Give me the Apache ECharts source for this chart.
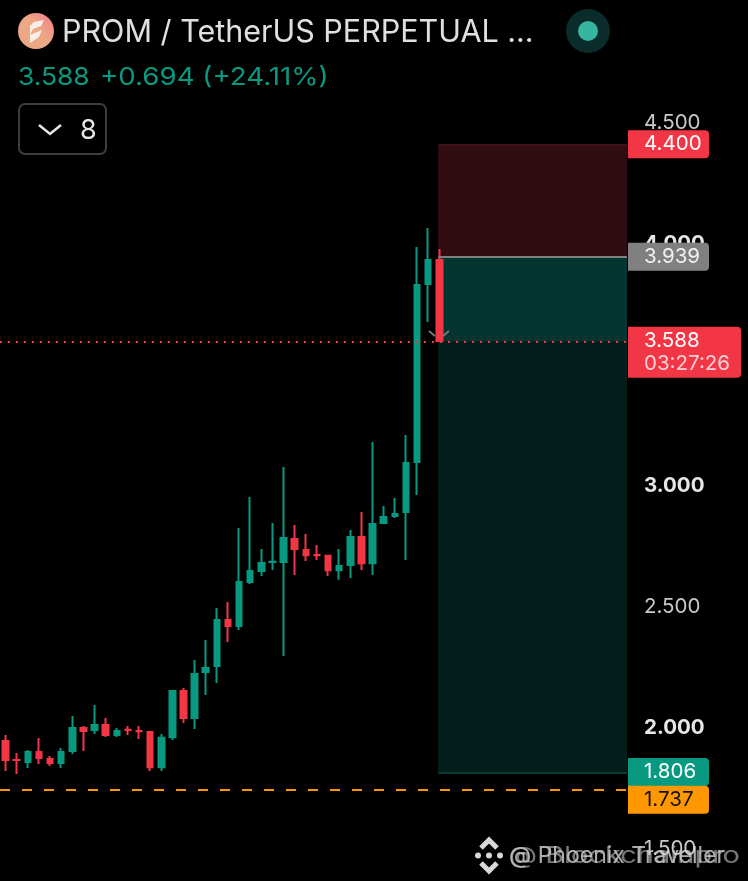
<!DOCTYPE html>
<html>
<head>
<meta charset="utf-8">
<style>html,body{margin:0;padding:0;background:#000;}#c{width:748px;height:881px;}</style>
<script src="https://cdn.jsdelivr.net/npm/echarts@6/dist/echarts.min.js"></script>
</head>
<body>
<div id="c"></div>
<script>
const opens  = [1.938,1.860,1.851,1.893,1.864,1.847,1.897,1.992,1.983,2.004,1.963,1.984,1.979,1.975,1.830,1.954,2.145,2.033,2.223,2.248,2.438,2.413,2.595,2.640,2.678,2.678,2.773,2.727,2.707,2.703,2.644,2.665,2.781,2.673,2.839,2.868,2.884,3.091,3.826,3.926];
const closes = [1.859,1.859,1.893,1.868,1.847,1.893,1.992,1.979,2.004,1.963,1.979,1.983,1.978,1.830,1.951,2.145,2.033,2.215,2.240,2.438,2.413,2.595,2.641,2.674,2.679,2.777,2.731,2.706,2.706,2.644,2.661,2.781,2.673,2.835,2.864,2.876,3.087,3.822,3.926,3.591];
const lows   = [1.814,1.802,1.826,1.843,1.835,1.826,1.884,1.897,1.967,1.955,1.955,1.963,1.946,1.814,1.814,1.942,2.012,1.988,2.128,2.178,2.347,2.397,2.587,2.620,2.645,2.289,2.624,2.682,2.686,2.620,2.604,2.612,2.645,2.624,2.835,2.860,2.686,2.955,3.669,3.587];
const highs  = [1.963,1.888,1.901,1.950,1.876,1.909,2.041,2.000,2.087,2.033,1.992,2.000,2.000,1.979,1.967,2.149,2.157,2.273,2.355,2.488,2.512,2.818,2.946,2.731,2.839,3.070,2.831,2.793,2.748,2.707,2.731,2.810,2.884,3.174,2.909,2.942,3.202,3.979,4.058,3.971];
const priceLevels = {stop:4.400, entry:3.939, target:1.806, last:3.588, support:1.737};
const countdown = '03:27:26';
const boxStartIndex = 38.9;
const xMin = -0.5, xMax = 55.88;
const UP='#089981', DOWN='#f23645', ORANGE='#ff9800', GREY='#808080';
const FONT='Inter';
const FS=20.5;

const candles = opens.map((o,i)=>[i,o,closes[i],lows[i],highs[i]]);
const tag = (val,bg,color,dy)=>({show:true,position:'end',distance:1,align:'left',verticalAlign:'middle',offset:[0,dy],
  width:65,height:26,lineHeight:26,padding:[2,0,0,16],backgroundColor:bg,color:color,fontFamily:FONT,fontSize:FS,
  borderRadius:[0,4,4,0],formatter:val.toFixed(3)});

const chart = echarts.init(document.getElementById('c'),null,{renderer:'canvas'});
chart.setOption({
  animation:false, backgroundColor:'#000',
  grid:{left:-0.56,top:121,width:627.56,height:726,containLabel:false},
  xAxis:{type:'value',min:xMin,max:xMax,show:false,splitLine:{show:false}},
  yAxis:{type:'value',position:'right',min:1.5,max:4.5,interval:0.5,
    axisLine:{show:false},axisTick:{show:false},splitLine:{show:false},
    axisLabel:{margin:17,fontFamily:FONT,fontSize:FS,color:'#d0d0d0',
      formatter:v=>Number.isInteger(v)?'{b|'+v.toFixed(3)+'}':(v===3.5?'':'{n|'+v.toFixed(3)+'}'),
      rich:{b:{fontFamily:FONT,fontSize:FS,fontWeight:'bold',color:'#e6e6e6',padding:[3,0,0,0]},n:{fontFamily:FONT,fontSize:FS,color:'#c8c8c8',padding:[3,0,0,0]}}}},
  series:[
    {type:'candlestick',data:candles,barWidth:6,z:5,clip:false,
      itemStyle:{color:UP,color0:DOWN,borderColor:UP,borderColor0:DOWN,borderWidth:2},
      markArea:{silent:true,z:1,data:[
        [{xAxis:boxStartIndex,yAxis:priceLevels.stop,itemStyle:{color:'#300d12'}},{xAxis:xMax,yAxis:priceLevels.entry}],
        [{xAxis:boxStartIndex,yAxis:priceLevels.entry,itemStyle:{color:'#043530'}},{xAxis:xMax,yAxis:priceLevels.last}],
        [{xAxis:boxStartIndex,yAxis:priceLevels.last,itemStyle:{color:'#041e1b'}},{xAxis:xMax,yAxis:priceLevels.target}]
      ]},
      markLine:{silent:true,symbol:'none',z:20,animation:false,data:[
        [{xAxis:boxStartIndex,yAxis:priceLevels.entry,lineStyle:{color:GREY,width:2,type:'solid'},label:tag(priceLevels.entry,GREY,'#f0f0f0',0)},{xAxis:xMax,yAxis:priceLevels.entry}],
        [{xAxis:boxStartIndex,yAxis:priceLevels.stop,lineStyle:{color:'#3f1419',width:2,type:'solid'},label:tag(priceLevels.stop,DOWN,'#ffffff',-1)},{xAxis:xMax,yAxis:priceLevels.stop}],
        [{xAxis:boxStartIndex,yAxis:priceLevels.target,lineStyle:{color:'#0a3a33',width:2,type:'solid'},label:tag(priceLevels.target,UP,'#ffffff',-1)},{xAxis:xMax,yAxis:priceLevels.target}],
        [{xAxis:xMin,yAxis:priceLevels.support,lineStyle:{color:ORANGE,width:2,type:[10,12]},label:tag(priceLevels.support,ORANGE,'#111111',10)},{xAxis:xMax,yAxis:priceLevels.support}],
        [{xAxis:xMin,yAxis:priceLevels.last,lineStyle:{color:DOWN,width:2,type:[2,6]},
          label:{show:true,position:'end',distance:1,align:'left',verticalAlign:'middle',offset:[0,10.5],backgroundColor:DOWN,borderRadius:[0,4,4,0],
            padding:[3,11,2,16],fontFamily:FONT,fontSize:FS,lineHeight:23,color:'#fff',
            formatter:'{a|'+priceLevels.last.toFixed(3)+'}\n{b|'+countdown+'}',
            rich:{a:{fontFamily:FONT,fontSize:FS,lineHeight:23,color:'#fff'},b:{fontFamily:FONT,fontSize:FS,lineHeight:23,color:'#ffd0d4'}}}},
         {xAxis:xMax,yAxis:priceLevels.last}]
      ]}
    }
  ],
  graphic:[
    {type:'circle',shape:{cx:36,cy:31,r:18},style:{fill:{type:'linear',x:0,y:1,x2:1,y2:0,colorStops:[{offset:0,color:'#eca884'},{offset:0.55,color:'#eca884'},{offset:1,color:'#f57c8a'}]}}},
    {type:'polygon',shape:{points:[[30,26],[34,22],[44,20],[41,26],[33,29],[30,35],[42,30],[39,37],[30,43]]},style:{fill:'#f6efe9'}},
    {type:'text',style:{x:62,y:33,text:'PROM / TetherUS PERPETUAL ...',font:'30.5px '+FONT,fill:'#e0e0e0',verticalAlign:'middle'}},
    {type:'circle',shape:{cx:588,cy:31,r:22},style:{fill:'#0a2c2b'}},
    {type:'circle',shape:{cx:588,cy:31,r:10},style:{fill:'#36b5a0'}},
    {type:'text',x:18,y:78,scaleX:1.077,style:{x:0,y:0,text:'3.588',font:'24.5px '+FONT,fill:UP,verticalAlign:'middle'}},
    {type:'text',x:100,y:78,scaleX:1.13,style:{x:0,y:0,text:'+0.694 (+24.11%)',font:'24.5px '+FONT,fill:UP,verticalAlign:'middle'}},
    {type:'rect',shape:{x:19,y:104,width:87,height:50,r:6},style:{fill:'none',stroke:'#3d3d3d',lineWidth:2}},
    {type:'polyline',shape:{points:[[39,125],[50,134],[61,125]]},style:{stroke:'#e6e6e6',lineWidth:2.5,fill:'none'}},
    {type:'text',style:{x:80,y:131,text:'8',font:'27px '+FONT,fill:'#e6e6e6',verticalAlign:'middle'}},
    {type:'polyline',z:30,shape:{points:[[429,331],[435,336]]},style:{stroke:'#777',lineWidth:2,fill:'none'}},
    {type:'polyline',z:30,shape:{points:[[443,336],[449,331]]},style:{stroke:'#777',lineWidth:2,fill:'none'}},
    {type:'text',z:50,x:509,y:856,scaleX:1.0,style:{x:0,y:0,text:'@ Phoenix Traveller',font:'23px '+FONT,fill:'rgba(230,230,230,0.75)',verticalAlign:'middle'}},
    {type:'text',z:50,x:509,y:856,scaleX:1.26,style:{x:0,y:0,text:'@ Blockchainpro',font:'23px '+FONT,fill:'rgba(200,200,200,0.6)',verticalAlign:'middle'}},
    {type:'polyline',z:50,shape:{points:[[481,848],[489,840],[497,848]]},style:{stroke:'#d8d8d8',lineWidth:5,fill:'none'}},
    {type:'polyline',z:50,shape:{points:[[481,863],[489,871],[497,863]]},style:{stroke:'#d8d8d8',lineWidth:5,fill:'none'}},
    {type:'circle',z:50,shape:{cx:478,cy:855.5,r:3},style:{fill:'#d8d8d8'}},
    {type:'circle',z:50,shape:{cx:489,cy:855.5,r:3},style:{fill:'#d8d8d8'}},
    {type:'circle',z:50,shape:{cx:500,cy:855.5,r:3},style:{fill:'#d8d8d8'}}
  ]
});
</script>
</body>
</html>
